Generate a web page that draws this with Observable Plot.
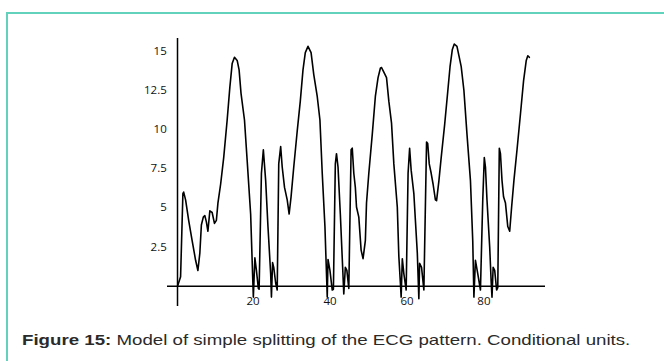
<!DOCTYPE html>
<html>
<head>
<meta charset="utf-8">
<script src="https://cdn.jsdelivr.net/npm/d3@7"></script>
<script src="https://cdn.jsdelivr.net/npm/@observablehq/plot@0.6"></script>
<style>
  html, body { margin: 0; padding: 0; background: #fff; overflow: hidden; }
  body { width: 664px; height: 361px; position: relative; }
  #frame {
    position: absolute; left: 6px; top: 12px; width: 720px; height: 420px;
    border-top: 2px solid #62d2bc; border-left: 2px solid #62d2bc;
    box-sizing: border-box;
  }
  #chart { position: absolute; left: 0; top: 0; }
  #caption {
    position: absolute; left: 22px; top: 331px; white-space: nowrap;
    font-family: "Liberation Sans", Arial, sans-serif; font-size: 15px;
    line-height: 18px; color: #2a2a2a;
    transform: scaleX(1.245); transform-origin: 0 0;
  }
  #caption b { font-weight: bold; }
</style>
</head>
<body>
<div id="frame"></div>
<div id="chart"></div>
<div id="caption"><b>Figure 15:</b> Model of simple splitting of the ECG pattern. Conditional units.</div>
<script>
// Sample positions (conditional units)
const t = [
  0, 0.8, 1.4, 1.6, 2.1, 2.9, 3.8, 4.7, 5.3, 5.8, 6.2, 6.7, 7.1, 7.5, 7.9, 8.4, 9.0, 9.6, 10.1, 10.5,
  11.2, 12.0, 12.9, 13.6, 14.2, 14.8, 15.5, 16.0, 16.5, 17.4, 18.1, 19.0, 19.5, 19.7, 20.1, 20.5, 21.0, 21.2,
  21.8, 22.3, 22.9, 23.5, 24.2, 24.4, 24.7, 25.0, 25.5, 25.9, 26.3, 26.8, 27.2, 27.8, 28.5, 29.0, 29.5,
  30.2, 31.1, 31.9, 32.6, 33.2, 33.9, 34.7, 35.4, 36.3, 37.0, 37.6, 38.3, 38.7, 38.9, 39.1, 39.6, 40.2, 40.5,
  41.0, 41.3, 41.7, 42.3, 42.9, 43.2, 43.6, 44.0, 44.5, 45.1, 45.4, 45.8, 46.2, 46.5, 47.1, 47.7, 48.2, 48.8,
  49.1, 49.7, 50.6, 51.4, 52.1, 52.7, 53.0, 53.6, 54.3, 54.9, 55.6, 56.2, 57.1, 57.5, 57.9, 58.1, 58.4, 58.8,
  59.4, 59.9, 60.3, 60.7, 61.4, 61.8, 62.3, 62.7, 62.9, 63.4, 64.0, 64.7, 65.0, 65.4, 65.9, 66.4, 67.0, 67.3,
  67.9, 68.5, 69.4, 70.2, 70.8, 71.4, 71.9, 72.6, 73.2, 73.7, 74.4, 75.2, 76.1, 76.7, 77.0, 77.4, 78.0, 78.7,
  79.3, 79.7, 80.0, 80.4, 81.1, 81.5, 81.7, 82.0, 82.4, 82.9, 83.2, 83.6, 83.9, 84.3, 84.7, 85.2, 85.8, 86.3,
  86.8, 87.4, 88.2, 89.1, 89.9, 90.6, 91.0, 91.4
];

// Signal amplitude at each position
const amplitude = [
  0, 0.6, 5.9, 6.0, 5.5, 4.2, 2.9, 1.65, 1.0, 2.1, 3.9, 4.4, 4.5, 4.1, 3.5, 4.8, 4.7, 4.0, 4.2, 5.3,
  6.5, 8.2, 10.6, 12.7, 14.2, 14.6, 14.4, 13.8, 12.3, 10.6, 8.0, 4.6, 0.8, -0.7, 1.8, 1.0, -0.15, -0.2,
  7.2, 8.7, 6.75, 3.8, 0.8, -0.7, 1.5, 1.2, 0.2, -0.25, 7.8, 8.9, 7.6, 6.3, 5.5, 4.6, 5.7,
  7.6, 9.9, 11.8, 13.8, 14.9, 15.3, 14.9, 13.5, 12.1, 10.6, 7.2, 3.8, 0.8, -0.7, 1.7, 1.0, -0.25, -0.2,
  7.8, 8.45, 7.6, 4.6, 1.2, -0.5, 1.2, 1.0, -0.15, 8.7, 8.8, 7.2, 6.3, 5.05, 4.4, 2.3, 1.75, 2.9,
  5.3, 7.2, 9.7, 12.1, 13.3, 13.9, 13.95, 13.65, 13.3, 11.8, 10.4, 7.8, 5.05, 1.9, 0.2, -0.7, 1.75, 0.8,
  -0.25, 7.2, 8.8, 7.4, 5.9, 4.2, 2.1, -0.8, 1.45, 1.2, -0.25, 9.2, 9.1, 7.8, 7.2, 6.5, 5.5, 5.45,
  6.7, 8.2, 10.3, 12.4, 14.0, 15.1, 15.45, 15.3, 14.6, 14.0, 12.5, 9.7, 6.75, 2.9, -0.7, 1.65, 0.8, -0.25,
  5.5, 8.2, 7.6, 5.5, 2.5, 0.2, -0.7, 1.2, 1.0, -0.25, -0.1, 8.8, 8.45, 6.75, 5.7, 5.3, 3.8, 3.5,
  5.05, 6.75, 8.7, 11.0, 13.1, 14.4, 14.7, 14.6
];

// Axis tick labels
const yTicks = [2.5, 5, 7.5, 10, 12.5, 15];
const xTicks = [20, 40, 60, 80];

const series = t.map((x, i) => ({x, y: amplitude[i]}));

const tickFont = "'Open Sans', 'DejaVu Sans', sans-serif";

const chart = Plot.plot({
  width: 664,
  height: 320,
  marginLeft: 167,
  marginRight: 119,
  marginTop: 38,
  marginBottom: 14,
  x: {domain: [-2.6, 95.6], axis: null},
  y: {domain: [-1.3, 15.8], axis: null},
  style: {background: "transparent", overflow: "visible"},
  marks: [
    Plot.ruleX([0], {stroke: "#000", strokeWidth: 1.5}),
    Plot.ruleY([0], {stroke: "#000", strokeWidth: 1.5}),
    Plot.line(series, {x: "x", y: "y", stroke: "#000", strokeWidth: 1.6, strokeLinejoin: "round"}),
    Plot.text(yTicks, {
      x: -2.8, y: d => d, text: d => String(d), textAnchor: "end",
      fontFamily: tickFont, fontSize: 11.5, fill: "#111"
    }),
    Plot.text(xTicks, {
      x: d => d, y: 0, dy: 15, dx: -1.5, text: d => String(d),
      fontFamily: tickFont, fontSize: 11.5, fill: "#111"
    })
  ]
});

document.getElementById("chart").appendChild(chart);
</script>
</body>
</html>
